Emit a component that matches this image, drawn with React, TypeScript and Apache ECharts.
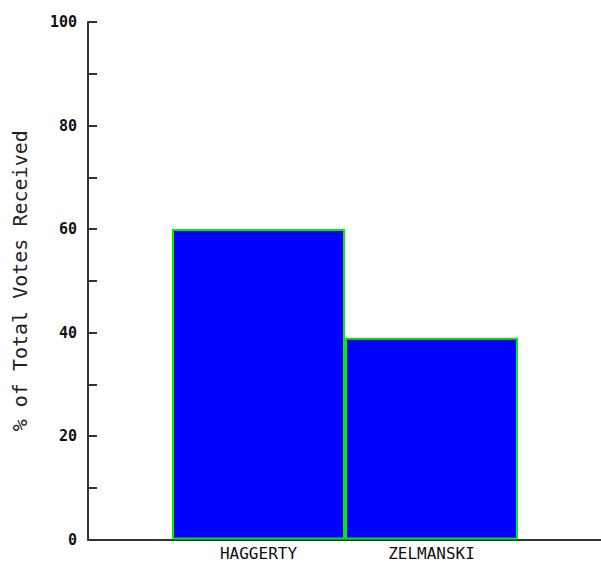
import React, { useEffect, useRef } from "react";
import * as echarts from "echarts";

const categories = ["HAGGERTY", "ZELMANSKI"];
const votePercent = [60, 39];
const yName = "% of Total Votes Received";

export default function App() {
  const ref = useRef<HTMLDivElement>(null);
  useEffect(() => {
    if (!ref.current) return;
    const chart = echarts.init(ref.current, null, { renderer: "svg" });
    const mono = "'DejaVu Sans Mono', monospace";
    chart.setOption({
      animation: false,
      backgroundColor: "#ffffff",
      grid: [
        { left: 172, right: 83, top: 22, bottom: 24.5, containLabel: false, outerBoundsMode: "none" },
        { left: 88, right: 0, top: 22, bottom: 24.5, containLabel: false, outerBoundsMode: "none" },
      ],
      xAxis: [
        {
          gridIndex: 0,
          type: "category",
          data: categories,
          boundaryGap: true,
          axisLine: { show: false },
          axisTick: { show: false },
          axisLabel: {
            margin: 6,
            color: "#111",
            fontFamily: mono,
            fontSize: 16,
            lineHeight: 15,
          },
        },
        {
          gridIndex: 1,
          type: "value",
          min: 0,
          max: 1,
          axisLine: { show: true, onZero: false, lineStyle: { color: "#333", width: 2 } },
          axisTick: { show: false },
          axisLabel: { show: false },
          splitLine: { show: false },
        },
      ],
      yAxis: [
        {
          gridIndex: 0,
          type: "value",
          min: 0,
          max: 100,
          interval: 20,
          offset: 84,
          name: yName,
          nameLocation: "middle",
          nameRotate: 90,
          nameGap: 58,
          nameTextStyle: { fontFamily: mono, fontSize: 20, color: "#222" },
          axisLine: { show: true, lineStyle: { color: "#333", width: 2 } },
          axisTick: { show: true, inside: true, length: 9, lineStyle: { color: "#333", width: 2 } },
          minorTick: { show: true, splitNumber: 2, length: 9, lineStyle: { color: "#333", width: 2 } },
          axisLabel: {
            margin: 11,
            color: "#111",
            fontFamily: mono,
            fontWeight: "bold",
            fontSize: 15,
          },
          splitLine: { show: false },
        },
        {
          gridIndex: 1,
          type: "value",
          min: 0,
          max: 1,
          show: false,
        },
      ],
      series: [
        {
          type: "bar",
          xAxisIndex: 0,
          yAxisIndex: 0,
          data: votePercent,
          barWidth: "100%",
          barCategoryGap: "0%",
          itemStyle: { color: "#0000ff", borderColor: "#00ee00", borderWidth: 2 },
        },
      ],
    });
    return () => chart.dispose();
  }, []);
  return (
    <div
      ref={ref}
      style={{ position: "fixed", left: 0, top: 0, width: 601, height: 564 }}
    />
  );
}
